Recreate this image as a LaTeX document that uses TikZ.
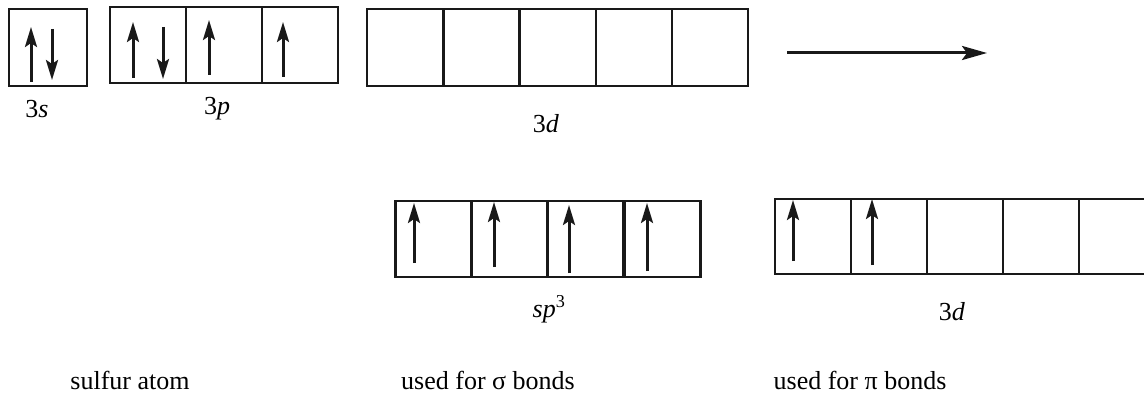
\documentclass[tikz,border=0pt]{standalone}
\usepackage{fontspec}
\setmainfont{Liberation Serif}
\usetikzlibrary{arrows.meta}
\begin{document}
\begin{tikzpicture}[x=1pt,y=-1pt,
  orb/.style={draw=black!90,line width=2.6pt,rectangle,inner sep=0pt,outer sep=0pt,minimum width=76pt,minimum height=76pt},
  spin/.style={line width=3pt,black!90,-{Stealth[length=20pt,width=12pt,inset=4pt]}},
  lab/.style={font=\fontsize{26}{30}\selectfont,anchor=base,inner sep=0pt}]
\useasboundingbox (0,0) rectangle (1144,393);
\clip (0,0) rectangle (1144,393);
% top row
\node[orb,minimum width=78pt,minimum height=77pt] (s) at (48,47.5) {};
\node[orb] (p1) at (148,45) {};
\node[orb] (p2) at (224,45) {};
\node[orb] (p3) at (300,45) {};
\node[orb,minimum height=77pt] (d1) at (405,47.5) {};
\node[orb,minimum height=77pt] (d2) at (481.5,47.5) {};
\node[orb,minimum height=77pt] (d3) at (558,47.5) {};
\node[orb,minimum height=77pt] (d4) at (634,47.5) {};
\node[orb,minimum height=77pt] (d5) at (710,47.5) {};
% spins top
\draw[spin] (31,82) -- (31,27);
\draw[spin] (52,29) -- (52,80);
\draw[spin] (133,78) -- (133,22);
\draw[spin] (163,27) -- (163,79);
\draw[spin] (209,75) -- (209,20);
\draw[spin] (283,77) -- (283,22);
% labels top
\node[lab] (l3s) at (37,118) {3\textit{s}};
\node[lab] (l3p) at (217,115) {3\textit{p}};
\node[lab] (l3d) at (546,133) {3\textit{d}};
% main arrow
\coordinate (a0) at (787,53);
\coordinate (a1) at (987,53);
\draw[line width=3pt,black!90,-{Stealth[length=25pt,width=14pt,inset=5pt]}] (a0) -- (a1);
% bottom row sp3
\node[orb] (h1) at (433.5,239) {};
\node[orb] (h2) at (509.5,239) {};
\node[orb] (h3) at (585.5,239) {};
\node[orb] (h4) at (662.5,239) {};
\draw[spin] (414,263) -- (414,203);
\draw[spin] (494,267) -- (494,202);
\draw[spin] (569,273) -- (569,205);
\draw[spin] (647,271) -- (647,203);
% bottom row 3d
\node[orb,minimum height=75pt] (e1) at (813,236.5) {};
\node[orb,minimum height=75pt] (e2) at (889,236.5) {};
\node[orb,minimum height=75pt] (e3) at (965,236.5) {};
\node[orb,minimum height=75pt] (e4) at (1041,236.5) {};
\node[orb,minimum height=75pt] (e5) at (1117,236.5) {};
\draw[spin] (793,261) -- (793,200);
\draw[spin] (872,265) -- (872,199);
% labels bottom
\node[lab] (lsp) at (549,317) {\textit{sp}\textsuperscript{3}};
\node[lab] (l3d2) at (952,320) {3\textit{d}};
\node[lab] (t1) at (130,389) {sulfur atom};
\node[lab] (t2) at (488,389) {used for σ bonds};
\node[lab] (t3) at (860,389) {used for π bonds};
\end{tikzpicture}
\end{document}
